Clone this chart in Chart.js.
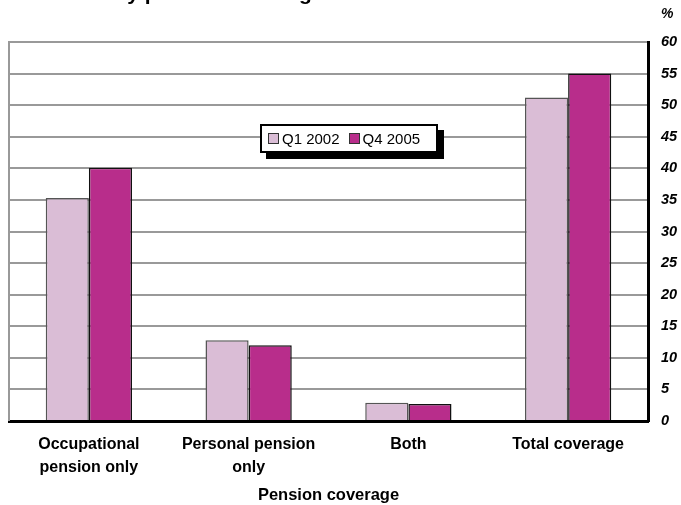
<!DOCTYPE html>
<html>
<head>
<meta charset="utf-8">
<script src="https://cdn.jsdelivr.net/npm/chart.js@4.4.1/dist/chart.umd.min.js"></script>
<style>
  html, body { margin: 0; padding: 0; background: #fff; overflow: hidden; }
  #wrap { position: relative; width: 681px; height: 505px; }
  canvas { display: block; }
  #legend {
    position: absolute; left: 260px; top: 124px; width: 172px; height: 25px;
    border: 2px solid #000; background: #fff; box-shadow: 6px 6px 0 #000;
    font: 15px "Liberation Sans", Arial, sans-serif; color: #000;
    display: flex; align-items: center; padding-left: 6px; box-sizing: border-box;
  }
  #legend { width: 178px; height: 29px; }
  #legend .item { display: flex; align-items: center; margin-right: 9px; }
  #legend .sw { width: 9px; height: 9px; border: 1px solid #333; margin-right: 3px; }
</style>
</head>
<body>
<div id="wrap">
  <canvas id="c" width="681" height="505"></canvas>
  <div id="legend"></div>
</div>
<script>
const titleText = "Workers by pension coverage";
const unitLabel = "%";
const xAxisTitle = "Pension coverage";
const categories = [["Occupational", "pension only"], ["Personal pension", "only"], "Both", "Total coverage"];
const seriesNames = ["Q1 2002", "Q4 2005"];
const q1_2002 = [35.3, 12.8, 2.9, 51.2];
const q4_2005 = [40.1, 12.0, 2.7, 55.0];
const yTicks = [0, 5, 10, 15, 20, 25, 30, 35, 40, 45, 50, 55, 60];

const colors = ["#dabdd6", "#b82d8b"];
const borders = ["#555555", "#111111"];
const FONT = '"Liberation Sans", Arial, sans-serif';

const extras = {
  id: "extras",
  beforeDatasetsDraw(chart) {
    const { ctx, chartArea } = chart;
    ctx.save();
    ctx.strokeStyle = "#999999";
    ctx.lineWidth = 2;
    ctx.beginPath();
    ctx.moveTo(chartArea.left, chartArea.top - 1);
    ctx.lineTo(chartArea.left, chartArea.bottom);
    ctx.stroke();
    ctx.restore();
  },
  afterDraw(chart) {
    const { ctx } = chart;
    ctx.save();
    ctx.fillStyle = "#000";
    ctx.textBaseline = "alphabetic";
    ctx.font = "bold 21px " + FONT;
    ctx.fillText(titleText, 25, -0.5);
    ctx.font = "bold italic 14px " + FONT;
    ctx.textBaseline = "middle";
    ctx.fillText(unitLabel, 661, 14);
    ctx.restore();
  }
};

const chart = new Chart(document.getElementById("c"), {
  type: "bar",
  data: {
    labels: categories,
    datasets: seriesNames.map((n, i) => ({
      label: n,
      data: i === 0 ? q1_2002 : q4_2005,
      backgroundColor: colors[i],
      borderColor: borders[i],
      borderWidth: 1.5,
      borderSkipped: "bottom",
      categoryPercentage: 0.54,
      barPercentage: 1.0
    }))
  },
  options: {
    responsive: false,
    animation: false,
    devicePixelRatio: 1,
    layout: { padding: { left: 9, top: 42, right: 0, bottom: 0 } },
    plugins: { legend: { display: false }, tooltip: { enabled: false }, title: { display: false } },
    scales: {
      x: {
        grid: { display: false },
        border: { display: true, color: "#000", width: 3 },
        ticks: { color: "#000", font: { family: FONT, size: 16, weight: "bold", lineHeight: 1.38 }, padding: 5, maxRotation: 0, autoSkip: false },
        title: { display: true, text: xAxisTitle, color: "#000", font: { family: FONT, size: 16.5, weight: "bold" }, padding: { top: 2, bottom: 0 } },
        afterFit(s) { s.height = 84; }
      },
      y: {
        position: "right",
        min: 0, max: 60,
        afterBuildTicks(s) { s.ticks = yTicks.map(v => ({ value: v })); },
        grid: { color: "#999999", lineWidth: 2, drawTicks: false },
        border: { display: true, color: "#000", width: 3 },
        ticks: { color: "#000", font: { family: FONT, size: 14.5, weight: "bold", style: "italic" }, padding: 13 },
        afterFit(s) { s.width = 33; }
      }
    }
  },
  plugins: [extras]
});

const lg = document.getElementById("legend");
chart.data.datasets.forEach(ds => {
  const it = document.createElement("span");
  it.className = "item";
  const sw = document.createElement("span");
  sw.className = "sw";
  sw.style.background = ds.backgroundColor;
  it.appendChild(sw);
  it.appendChild(document.createTextNode(ds.label));
  lg.appendChild(it);
});
</script>
</body>
</html>
